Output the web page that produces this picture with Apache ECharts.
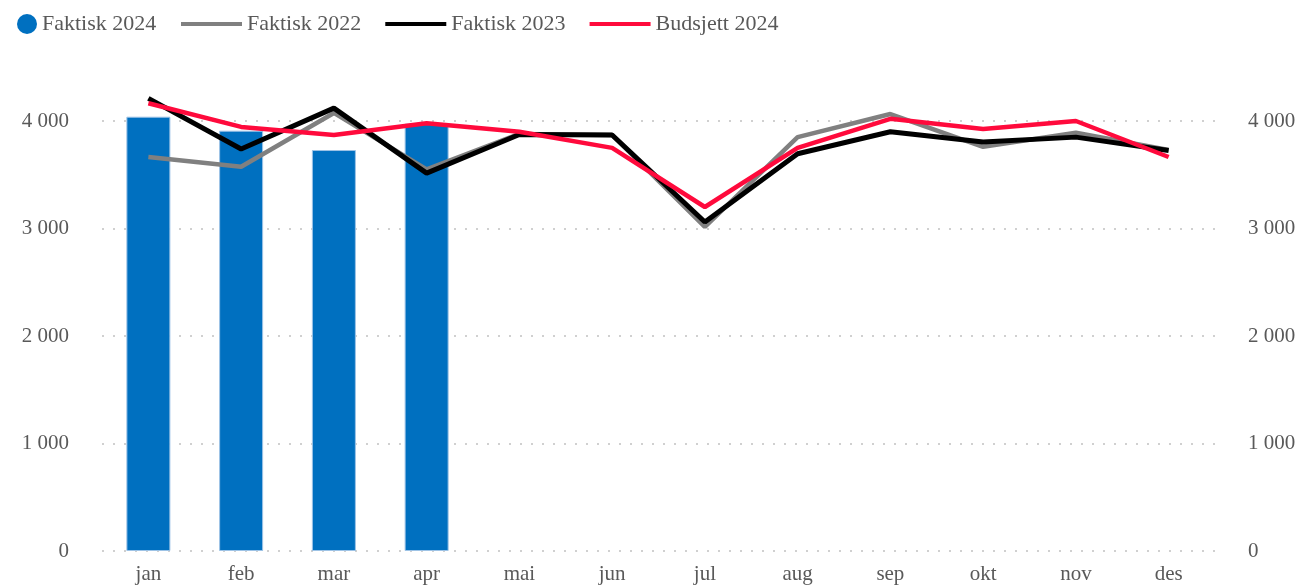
<!DOCTYPE html>
<html>
<head>
<meta charset="utf-8">
<script src="https://cdn.jsdelivr.net/npm/echarts@6/dist/echarts.min.js"></script>
<style>
  html, body { margin: 0; padding: 0; background: #fff; }
  #chart { width: 1299px; height: 585px; }
</style>
</head>
<body>
<div id="chart"></div>
<script>
// Data
const months = ['jan', 'feb', 'mar', 'apr', 'mai', 'jun', 'jul', 'aug', 'sep', 'okt', 'nov', 'des'];
const faktisk2024 = [4040, 3910, 3730, 3975, null, null, null, null, null, null, null, null];
const faktisk2022 = [3665, 3575, 4075, 3550, 3880, 3870, 3015, 3850, 4065, 3760, 3890, 3730];
const faktisk2023 = [4210, 3740, 4120, 3515, 3875, 3870, 3060, 3695, 3900, 3805, 3850, 3725];
const budsjett2024 = [4165, 3945, 3870, 3980, 3900, 3750, 3200, 3750, 4020, 3925, 4000, 3665];

const textColor = '#595959';
const font = 'Liberation Serif';

const fmt = (v) => String(v).replace(/\B(?=(\d{3})+(?!\d))/g, ' ');

const chart = echarts.init(document.getElementById('chart'));

const valueAxis = (position) => ({
  type: 'value',
  position: position,
  min: 0,
  max: 4000,
  interval: 1000,
  axisLine: { show: false },
  axisTick: { show: false },
  axisLabel: {
    color: textColor,
    fontFamily: font,
    fontSize: 21,
    margin: 33,
    formatter: fmt
  },
  splitLine: {
    show: position === 'left',
    lineStyle: { color: '#D0D0D0', width: 2, type: [2, 9] }
  }
});

const legendText = {
  color: textColor,
  fontFamily: font,
  fontSize: 22
};

chart.setOption({
  animation: false,
  grid: { left: 102, right: 84, top: 121, bottom: 34, containLabel: false },
  legend: [
    {
      left: 12,
      top: 8,
      icon: 'circle',
      itemWidth: 20,
      itemHeight: 20,
      itemStyle: { borderWidth: 0 },
      textStyle: legendText,
      data: ['Faktisk 2024']
    },
    {
      left: 176,
      top: 8,
      icon: 'rect',
      itemWidth: 61,
      itemHeight: 4,
      itemGap: 24,
      textStyle: legendText,
      data: ['Faktisk 2022', 'Faktisk 2023', 'Budsjett 2024']
    }
  ],
  xAxis: {
    type: 'category',
    data: months,
    axisLine: { show: false },
    axisTick: { show: false },
    axisLabel: { color: textColor, fontFamily: font, fontSize: 21, margin: 13 }
  },
  yAxis: [valueAxis('left'), valueAxis('right')],
  series: [
    {
      name: 'Faktisk 2024',
      type: 'bar',
      data: faktisk2024,
      barWidth: 44,
      clip: false,
      itemStyle: { color: '#0070C0', borderColor: '#9DC3E6', borderWidth: 1 }
    },
    {
      name: 'Faktisk 2022',
      type: 'line',
      data: faktisk2022,
      showSymbol: false,
      clip: false,
      itemStyle: { color: '#808080' },
      lineStyle: { color: '#808080', width: 4.5 }
    },
    {
      name: 'Faktisk 2023',
      type: 'line',
      data: faktisk2023,
      showSymbol: false,
      clip: false,
      itemStyle: { color: '#000000' },
      lineStyle: { color: '#000000', width: 5 }
    },
    {
      name: 'Budsjett 2024',
      type: 'line',
      data: budsjett2024,
      showSymbol: false,
      clip: false,
      itemStyle: { color: '#FF0A3C' },
      lineStyle: { color: '#FF0A3C', width: 4.5 }
    }
  ]
});
</script>
</body>
</html>
